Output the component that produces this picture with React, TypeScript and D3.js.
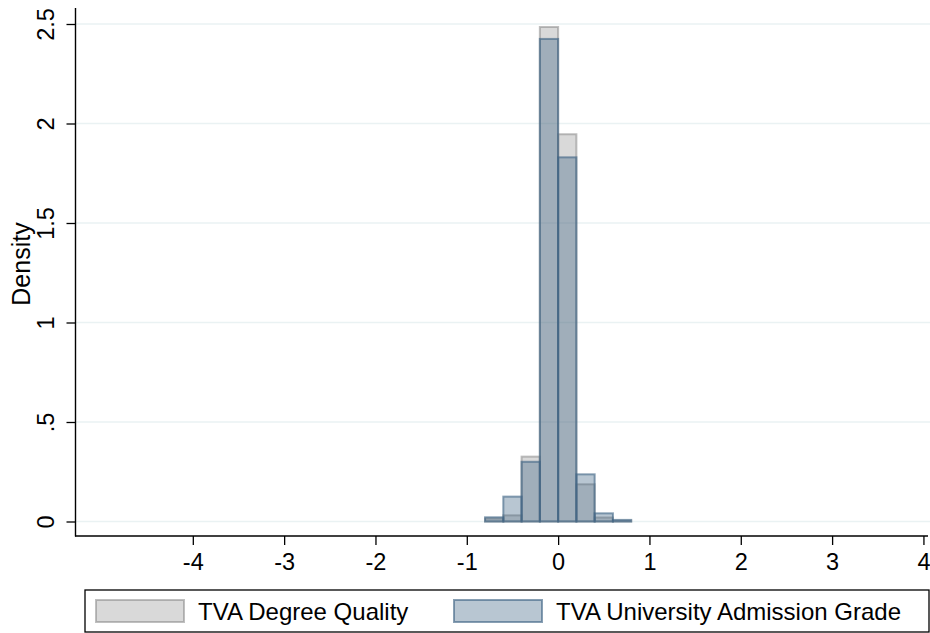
import React, { useEffect, useRef } from 'react';
import * as d3 from 'd3';

// histogram bins (left edges), width 0.2
const binStarts = [-0.8, -0.6, -0.4, -0.2, 0, 0.2, 0.4, 0.6];
const binWidth = 0.2;
const degreeQuality = [0.015, 0.031, 0.326, 2.485, 1.946, 0.187, 0.02, 0.004];
const admissionGrade = [0.021, 0.125, 0.3, 2.425, 1.83, 0.237, 0.041, 0.008];

const xTicks = [-4, -3, -2, -1, 0, 1, 2, 3, 4];
const yTicks = [0, 0.5, 1, 1.5, 2, 2.5];
const yTickLabels = ['0', '.5', '1', '1.5', '2', '2.5'];

const seriesNames = ['TVA Degree Quality', 'TVA University Admission Grade'];

const width = 930;
const height = 633;
const font = '"Liberation Sans", Arial, Helvetica, sans-serif';

export default function App() {
  const svgRef = useRef<SVGSVGElement>(null);

  useEffect(() => {
    if (!svgRef.current) return;
    const svg = d3.select(svgRef.current);
    svg.selectAll('*').remove();

    const x = d3.scaleLinear().domain([-5.29, 4.05]).range([75, 928]);
    const y = d3.scaleLinear().domain([0, 2.5]).range([521.5, 24]);
    const plotTop = 8;
    const plotBottom = 536;

    svg.append('rect').attr('width', width).attr('height', height).attr('fill', '#fff');

    // gridlines
    svg.append('g')
      .selectAll('line')
      .data(yTicks)
      .enter()
      .append('line')
      .attr('x1', 76)
      .attr('x2', 930)
      .attr('y1', d => y(d))
      .attr('y2', d => y(d))
      .attr('stroke', '#eaf2f3')
      .attr('stroke-width', 1.6);

    const series = [
      { values: degreeQuality, fill: 'rgb(128,128,128)', fillOpacity: 0.3, strokeOpacity: 0.5 },
      { values: admissionGrade, fill: 'rgb(63,100,133)', fillOpacity: 0.37, strokeOpacity: 0.62 },
    ];

    series.forEach(s => {
      svg.append('g')
        .selectAll('rect')
        .data(binStarts.map((b, i) => ({ b, v: s.values[i] })))
        .enter()
        .append('rect')
        .attr('x', d => x(d.b))
        .attr('y', d => y(d.v))
        .attr('width', d => x(d.b + binWidth) - x(d.b))
        .attr('height', d => y(0) - y(d.v))
        .attr('fill', s.fill)
        .attr('fill-opacity', s.fillOpacity)
        .attr('stroke', s.fill)
        .attr('stroke-opacity', s.strokeOpacity)
        .attr('stroke-width', 2);
    });

    // y axis
    const yAxis = d3.axisLeft(y)
      .tickValues(yTicks)
      .tickSize(9)
      .tickPadding(0)
      .tickFormat((d, i) => yTickLabels[i]);
    const yg = svg.append('g').attr('transform', 'translate(75.5,0)').call(yAxis);
    yg.select('.domain').remove();
    yg.selectAll('line').attr('stroke', '#000').attr('stroke-width', 1.3);
    yg.selectAll('text')
      .attr('x', 0)
      .attr('y', 0)
      .attr('dy', 0)
      .attr('text-anchor', 'middle')
      .attr('transform', 'translate(-22,0) rotate(-90)')
      .style('font-family', font)
      .style('font-size', '23.5px')
      .attr('fill', '#000');
    svg.append('line')
      .attr('x1', 75.5).attr('x2', 75.5)
      .attr('y1', plotTop).attr('y2', plotBottom + 0.5)
      .attr('stroke', '#000').attr('stroke-width', 1.4);

    // x axis
    const xAxis = d3.axisBottom(x)
      .tickValues(xTicks)
      .tickSize(9)
      .tickPadding(5)
      .tickFormat(d => String(d));
    const xg = svg.append('g').attr('transform', `translate(0,${plotBottom})`).call(xAxis);
    xg.select('.domain').remove();
    xg.selectAll('line').attr('stroke', '#000').attr('stroke-width', 1.3);
    xg.selectAll('text')
      .attr('dy', 0)
      .attr('y', 34)
      .style('font-family', font)
      .style('font-size', '23.5px')
      .attr('fill', '#000');
    svg.append('line')
      .attr('x1', 75).attr('x2', 928)
      .attr('y1', plotBottom).attr('y2', plotBottom)
      .attr('stroke', '#000').attr('stroke-width', 1.4);

    // y title
    svg.append('text')
      .attr('transform', 'translate(30,264) rotate(-90)')
      .attr('text-anchor', 'middle')
      .style('font-family', font)
      .style('font-size', '25px')
      .text('Density');

    // legend
    const lg = svg.append('g');
    lg.append('rect')
      .attr('x', 85).attr('y', 590)
      .attr('width', 844).attr('height', 42)
      .attr('fill', '#fff')
      .attr('stroke', '#000').attr('stroke-width', 1.3);
    const keyX = [96, 454];
    series.forEach((s, i) => {
      lg.append('rect')
        .attr('x', keyX[i]).attr('y', 600)
        .attr('width', 88).attr('height', 22)
        .attr('fill', s.fill).attr('fill-opacity', s.fillOpacity)
        .attr('stroke', s.fill).attr('stroke-opacity', s.strokeOpacity)
        .attr('stroke-width', 2);
      lg.append('text')
        .attr('x', keyX[i] + 102).attr('y', 619.5)
        .style('font-family', font)
        .style('font-size', '24px')
        .text(seriesNames[i]);
    });
  }, []);

  return (
    <svg
      ref={svgRef}
      width={width}
      height={height}
      style={{ position: 'absolute', left: 0, top: 0, display: 'block' }}
    />
  );
}
